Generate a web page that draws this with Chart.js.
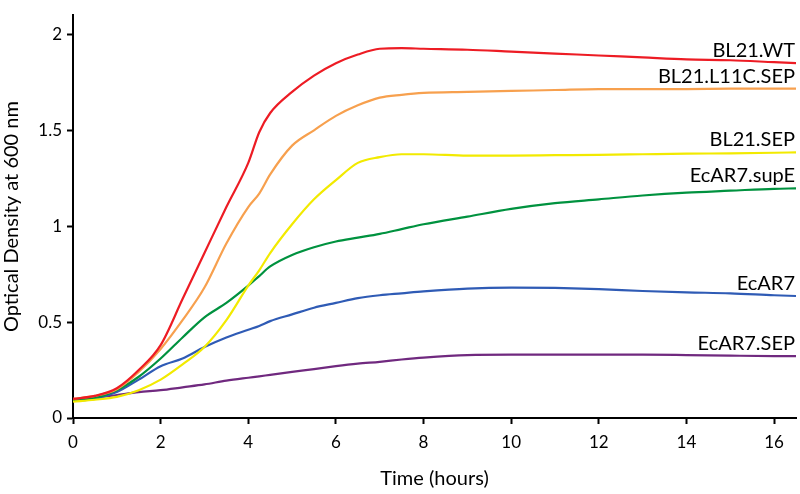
<!DOCTYPE html>
<html>
<head>
<meta charset="utf-8">
<script src="https://cdn.jsdelivr.net/npm/chart.js@4"></script>
<style>
  html, body { margin: 0; padding: 0; background: #fff; }
  #wrap { width: 800px; height: 494px; }
</style>
</head>
<body>
<div id="wrap"><canvas id="growthChart"></canvas></div>
<script>
// time points (hours)
const hours = [0, 0.5, 1, 1.5, 2, 2.5, 3, 3.5, 4, 4.25, 4.5, 5, 5.5, 6, 6.5, 7, 7.5, 8, 9, 10, 11, 12, 13, 14, 15, 16, 16.5];

// OD600 per strain
const bl21WT      = [0.10, 0.115, 0.155, 0.25, 0.38, 0.62, 0.86, 1.10, 1.33, 1.49, 1.59, 1.70, 1.785, 1.85, 1.895, 1.925, 1.928, 1.925, 1.92, 1.91, 1.90, 1.89, 1.88, 1.87, 1.865, 1.855, 1.85];
const bl21L11CSEP = [0.10, 0.115, 0.15, 0.24, 0.36, 0.51, 0.68, 0.91, 1.10, 1.17, 1.27, 1.42, 1.50, 1.575, 1.63, 1.67, 1.685, 1.695, 1.70, 1.705, 1.71, 1.715, 1.715, 1.715, 1.717, 1.717, 1.717];
const bl21SEP     = [0.085, 0.095, 0.11, 0.145, 0.20, 0.28, 0.37, 0.51, 0.69, 0.77, 0.86, 1.01, 1.14, 1.24, 1.33, 1.36, 1.375, 1.375, 1.368, 1.368, 1.37, 1.372, 1.375, 1.378, 1.38, 1.383, 1.385];
const ecar7SupE   = [0.09, 0.105, 0.145, 0.215, 0.31, 0.42, 0.525, 0.60, 0.69, 0.74, 0.79, 0.85, 0.89, 0.92, 0.94, 0.96, 0.985, 1.01, 1.05, 1.09, 1.12, 1.14, 1.16, 1.175, 1.185, 1.195, 1.197];
const ecar7       = [0.09, 0.10, 0.135, 0.20, 0.27, 0.31, 0.37, 0.42, 0.46, 0.48, 0.505, 0.54, 0.575, 0.60, 0.625, 0.64, 0.65, 0.66, 0.675, 0.68, 0.678, 0.672, 0.662, 0.655, 0.65, 0.64, 0.636];
const ecar7SEP    = [0.095, 0.105, 0.12, 0.135, 0.145, 0.16, 0.175, 0.195, 0.21, 0.217, 0.225, 0.24, 0.255, 0.27, 0.283, 0.293, 0.305, 0.315, 0.328, 0.33, 0.33, 0.33, 0.33, 0.328, 0.325, 0.323, 0.323];

const strainNames = ['BL21.WT', 'BL21.L11C.SEP', 'BL21.SEP', 'EcAR7.supE', 'EcAR7', 'EcAR7.SEP'];
const strainSeries = [bl21WT, bl21L11CSEP, bl21SEP, ecar7SupE, ecar7, ecar7SEP];
const strainColors = ['#ED1C24', '#F7A04E', '#F2EA00', '#00923F', '#2F5BB5', '#70297F'];

const FONT = 'Lato, "Open Sans", sans-serif';

// write each strain name above the end of its curve
const endLabels = {
    id: 'endLabels',
    afterDatasetsDraw(chart) {
        const ctx = chart.ctx;
        const right = chart.chartArea.right - 1;
        ctx.save();
        ctx.font = '20px ' + FONT;
        ctx.fillStyle = '#000';
        ctx.textAlign = 'right';
        ctx.textBaseline = 'alphabetic';
        chart.data.datasets.forEach((ds, i) => {
            const pts = chart.getDatasetMeta(i).data;
            const last = pts[pts.length - 1];
            ctx.fillText(ds.label, right, last.y - 6);
        });
        ctx.restore();
    }
};

const datasets = strainNames.map((name, i) => ({
    label: name,
    data: hours.map((h, j) => ({ x: h, y: strainSeries[i][j] })),
    borderColor: strainColors[i],
    backgroundColor: strainColors[i],
    borderWidth: 2.2,
    pointRadius: 0,
    cubicInterpolationMode: 'monotone',
    fill: false
}));

new Chart(document.getElementById('growthChart').getContext('2d'), {
    type: 'line',
    data: { datasets: datasets },
    options: {
        responsive: true,
        maintainAspectRatio: false,
        animation: false,
        layout: { padding: { top: 3, right: 4, left: 0, bottom: 0 } },
        plugins: {
            legend: { display: false },
            tooltip: { enabled: false }
        },
        scales: {
            x: {
                type: 'linear',
                min: 0,
                max: 16.5,
                border: { color: '#000', width: 2 },
                grid: { drawOnChartArea: false, drawTicks: true, tickLength: 6, color: '#000', tickWidth: 2 },
                ticks: { stepSize: 2, includeBounds: false, color: '#000', font: { family: FONT, size: 17 }, padding: 8, maxRotation: 0 },
                title: { display: true, text: 'Time (hours)', color: '#000', font: { family: FONT, size: 20 }, padding: { top: 0, bottom: 3 } },
                afterFit(scale) { scale.height = 76; }
            },
            y: {
                min: 0,
                max: 2.1,
                border: { color: '#000', width: 2 },
                grid: { drawOnChartArea: false, drawTicks: true, tickLength: 6, color: '#000', tickWidth: 2 },
                ticks: { stepSize: 0.5, includeBounds: false, color: '#000', font: { family: FONT, size: 17 }, padding: 5,
                         callback: (v) => String(v) },
                title: { display: true, text: 'Optical Density at 600 nm', color: '#000', font: { family: FONT, size: 20 }, padding: { top: 0, bottom: 0 } },
                afterFit(scale) { scale.width = 73; }
            }
        }
    },
    plugins: [endLabels]
});
</script>
</body>
</html>
